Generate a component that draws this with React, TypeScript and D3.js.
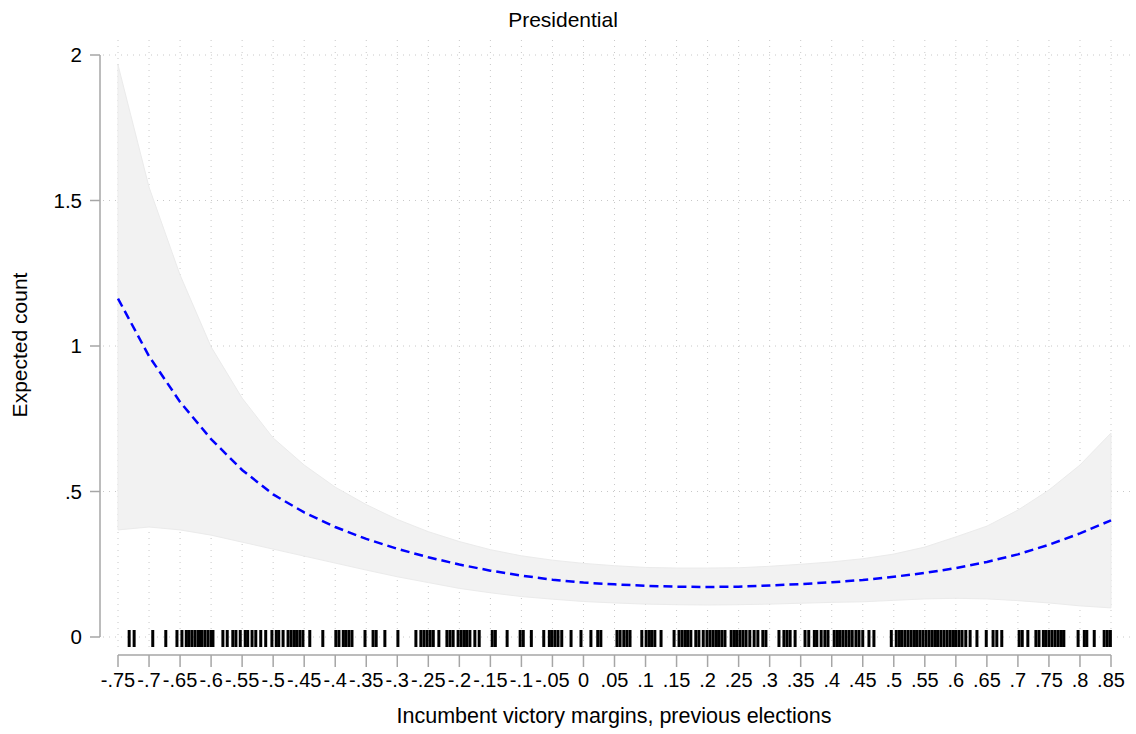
import React from "react";
import * as d3 from "d3";

// margins at which the prediction was evaluated
const margins = [
  -0.75, -0.7, -0.65, -0.6, -0.55, -0.5, -0.45, -0.4, -0.35, -0.3, -0.25, -0.2, -0.15, -0.1, -0.05, 0,
  0.05, 0.1, 0.15, 0.2, 0.25, 0.3, 0.35, 0.4, 0.45, 0.5, 0.55, 0.6, 0.65, 0.7, 0.75, 0.8, 0.85,
];
const predicted = [
  1.163, 0.965, 0.808, 0.68, 0.574, 0.49, 0.428, 0.378, 0.337, 0.303, 0.274, 0.249, 0.228, 0.211, 0.197, 0.187,
  0.181, 0.176, 0.173, 0.172, 0.173, 0.177, 0.182, 0.188, 0.196, 0.207, 0.22, 0.237, 0.258, 0.284, 0.317, 0.356, 0.401,
];
const upperCI = [
  1.966, 1.546, 1.244, 0.997, 0.821, 0.684, 0.591, 0.515, 0.455, 0.404, 0.362, 0.328, 0.3, 0.279, 0.264, 0.253,
  0.245, 0.239, 0.237, 0.237, 0.238, 0.243, 0.25, 0.258, 0.269, 0.285, 0.309, 0.344, 0.381, 0.436, 0.505, 0.591, 0.701,
];
const lowerCI = [
  0.368, 0.378, 0.368, 0.35, 0.326, 0.302, 0.278, 0.254, 0.23, 0.207, 0.187, 0.167, 0.152, 0.139, 0.13, 0.122,
  0.117, 0.113, 0.111, 0.11, 0.111, 0.113, 0.116, 0.119, 0.121, 0.126, 0.131, 0.133, 0.131, 0.125, 0.117, 0.107, 0.1,
];

// observed victory margins (rug)
const rugValues = [
  -0.732, -0.724, -0.694, -0.673, -0.655, -0.647, -0.64, -0.636, -0.631, -0.626, -0.621, -0.618, -0.615, -0.61,
  -0.605, -0.6, -0.597, -0.581, -0.574, -0.565, -0.56, -0.553, -0.545, -0.541, -0.534, -0.528, -0.52, -0.512,
  -0.502, -0.495, -0.491, -0.484, -0.476, -0.471, -0.466, -0.462, -0.457, -0.452, -0.441, -0.42, -0.399, -0.394,
  -0.387, -0.383, -0.378, -0.373, -0.352, -0.339, -0.334, -0.32, -0.299, -0.27, -0.262, -0.257, -0.252, -0.247,
  -0.242, -0.233, -0.22, -0.215, -0.21, -0.202, -0.197, -0.192, -0.188, -0.183, -0.175, -0.168, -0.147, -0.142,
  -0.123, -0.102, -0.097, -0.084, -0.064, -0.055, -0.051, -0.046, -0.041, -0.035, -0.02, -0.004, 0.012, 0.023,
  0.028, 0.054, 0.059, 0.065, 0.07, 0.075, 0.094, 0.101, 0.106, 0.11, 0.115, 0.125, 0.146, 0.154, 0.159, 0.164,
  0.168, 0.173, 0.181, 0.186, 0.193, 0.199, 0.204, 0.209, 0.214, 0.218, 0.223, 0.228, 0.238, 0.243, 0.247, 0.252,
  0.257, 0.262, 0.268, 0.275, 0.281, 0.289, 0.294, 0.315, 0.323, 0.328, 0.333, 0.341, 0.357, 0.363, 0.372, 0.376,
  0.383, 0.389, 0.394, 0.404, 0.409, 0.413, 0.418, 0.423, 0.428, 0.433, 0.439, 0.444, 0.45, 0.46, 0.468, 0.496,
  0.504, 0.509, 0.513, 0.518, 0.523, 0.528, 0.533, 0.537, 0.542, 0.547, 0.552, 0.557, 0.562, 0.567, 0.571, 0.576,
  0.581, 0.586, 0.591, 0.596, 0.6, 0.605, 0.61, 0.616, 0.623, 0.634, 0.649, 0.66, 0.666, 0.674, 0.702, 0.707,
  0.716, 0.729, 0.734, 0.741, 0.745, 0.75, 0.755, 0.76, 0.765, 0.77, 0.774, 0.797, 0.807, 0.811, 0.823, 0.839,
  0.844, 0.849,
];

const yTicks = [0, 0.5, 1, 1.5, 2];
const yTickLabels = ["0", ".5", "1", "1.5", "2"];
const xTickLabels = [
  "-.75", "-.7", "-.65", "-.6", "-.55", "-.5", "-.45", "-.4", "-.35", "-.3", "-.25", "-.2", "-.15", "-.1", "-.05", "0",
  ".05", ".1", ".15", ".2", ".25", ".3", ".35", ".4", ".45", ".5", ".55", ".6", ".65", ".7", ".75", ".8", ".85",
];

const W = 1136;
const H = 734;
const font = "'Liberation Sans', Arial, Helvetica, sans-serif";
const axisGray = "#a6a6a6";
const gridGray = "#c8c8c8";

export default function App() {
  const x = d3.scaleLinear().domain([-0.75, 0.85]).range([118, 1111]);
  const y = d3.scaleLinear().domain([0, 2]).range([637, 55]);

  const rows = margins.map((m, i) => ({ m, p: predicted[i], lo: lowerCI[i], hi: upperCI[i] }));

  const band = d3
    .area<any>()
    .x((d) => x(d.m))
    .y0((d) => y(d.lo))
    .y1((d) => y(d.hi));

  const line = d3
    .line<any>()
    .x((d) => x(d.m))
    .y((d) => y(d.p));

  const xAxisY = 655;
  const gridTop = 40;
  const gridBottom = 650;

  return (
    <svg width={W} height={H} style={{ position: "absolute", left: 0, top: 0, background: "#fff" }}>
      <rect x={0} y={0} width={W} height={H} fill="#fff" />

      {/* grid */}
      {margins.map((m, i) => (
        <line key={"vg" + i} x1={x(m)} x2={x(m)} y1={gridTop} y2={gridBottom} stroke={gridGray} strokeWidth={1} strokeDasharray="1,5" />
      ))}
      {yTicks.map((t, i) => (
        <line key={"hg" + i} x1={103} x2={1131} y1={y(t)} y2={y(t)} stroke={gridGray} strokeWidth={1} strokeDasharray="1,5" />
      ))}

      {/* confidence band */}
      <path d={band(rows) || ""} fill="#f2f2f2" stroke="#ebebeb" strokeWidth={1} />

      {/* predicted count */}
      <path d={line(rows) || ""} fill="none" stroke="#0000ff" strokeWidth={2.5} strokeDasharray="9,5" />

      {/* rug */}
      {rugValues.map((v, i) => (
        <line key={"r" + i} x1={x(v)} x2={x(v)} y1={630} y2={647} stroke="#000" strokeWidth={3} />
      ))}

      {/* y axis */}
      <line x1={100} x2={100} y1={y(2)} y2={y(0)} stroke={axisGray} strokeWidth={1.5} />
      {yTicks.map((t, i) => (
        <g key={"yt" + i}>
          <line x1={90} x2={100} y1={y(t)} y2={y(t)} stroke={axisGray} strokeWidth={1.5} />
          <text x={82} y={y(t)} dy="0.36em" textAnchor="end" fontFamily={font} fontSize={20.5} fill="#000">
            {yTickLabels[i]}
          </text>
        </g>
      ))}

      {/* x axis */}
      <line x1={x(-0.75)} x2={x(0.85)} y1={xAxisY} y2={xAxisY} stroke={axisGray} strokeWidth={1.5} />
      {margins.map((m, i) => (
        <g key={"xt" + i}>
          <line x1={x(m)} x2={x(m)} y1={xAxisY} y2={xAxisY + 12} stroke={axisGray} strokeWidth={1.5} />
          <text x={x(m)} y={687} textAnchor="middle" fontFamily={font} fontSize={20} fill="#000">
            {xTickLabels[i]}
          </text>
        </g>
      ))}

      {/* titles */}
      <text x={563} y={27} textAnchor="middle" fontFamily={font} fontSize={21} fill="#000">
        Presidential
      </text>
      <text x={614} y={723} textAnchor="middle" fontFamily={font} fontSize={21.5} fill="#000">
        Incumbent victory margins, previous elections
      </text>
      <text
        transform={`translate(27,${345}) rotate(-90)`}
        textAnchor="middle"
        fontFamily={font}
        fontSize={21}
        fill="#000"
      >
        Expected count
      </text>
    </svg>
  );
}
